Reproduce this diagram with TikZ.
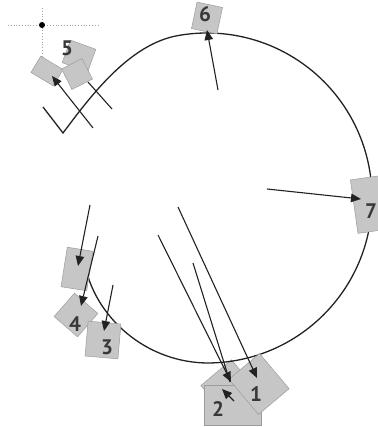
\documentclass[tikz,border=0pt]{standalone}
\usepackage{fontspec}
\setmainfont{PT Sans}
\usetikzlibrary{arrows.meta}
\definecolor{boxgray}{HTML}{C6C6C6}
\definecolor{boxedge}{HTML}{9C9C9C}
\definecolor{ink}{HTML}{222222}
\begin{document}
\begin{tikzpicture}[x=1pt,y=-1pt,
  box/.style={draw=boxedge, line width=0.5pt, fill=boxgray, inner sep=0pt},
  lbl/.style={font=\fontsize{21}{21}\selectfont\bfseries, text=ink!90, inner sep=0pt},
  arr/.style={draw=ink, line width=1.1pt, -{Triangle[length=10pt,width=8.5pt]}},
  plain/.style={draw=ink, line width=1.1pt},
  curve/.style={draw=ink, line width=1.3pt},
  guide/.style={draw=gray!70, line width=0.8pt, dotted}]
\useasboundingbox (0,0) rectangle (377,427);

% box hidden behind boxes 1 and 2
\node[box, minimum width=40pt, minimum height=40pt, rotate=40] (b2back) at (229,388) {};

% the open circle
\draw[curve] (84,258) .. controls (90,310) and (140,362) .. (207,363)
  arc[start angle=90, end angle=-100, radius=165]
  .. controls (129,44) and (90,97) .. (63,133) -- (43,107);

% dotted crosshair
\coordinate (gh1) at (8,25); \coordinate (gh2) at (98,25);
\coordinate (gv1) at (42,8); \coordinate (gv2) at (42,60);
\draw[guide] (gh1) -- (gh2);
\draw[guide] (gv1) -- (gv2);
\fill[black] (42,25) circle (3);

% boxes
\node[box, minimum width=57pt, minimum height=40pt] (b2) at (233,405) {};
\node[box, minimum width=40pt, minimum height=46pt, rotate=40] (b1) at (259,384) {};
\node[box, minimum width=26pt, minimum height=40pt, rotate=-9] (u4) at (77,269) {};
\node[box, minimum width=31pt, minimum height=31pt, rotate=-41] (b4) at (76,315) {};
\node[box, minimum width=33pt, minimum height=35pt, rotate=-5] (b3) at (103,340) {};
\node[box, minimum width=27pt, minimum height=24pt, rotate=-20] (b5) at (79,56) {};
\node[box, minimum width=26pt, minimum height=19pt, rotate=-31] (l5) at (47,71) {};
\node[box, minimum width=23pt, minimum height=23pt, rotate=27] (r5) at (77,74) {};
\node[box, minimum width=26pt, minimum height=27pt, rotate=-12] (b6) at (207,18) {};
\node[box, minimum width=38pt, minimum height=54pt, rotate=8] (b7) at (373,204) {};

% labels
\node[lbl] (t1) at (256,394) {1};
\node[lbl] (t2) at (218,409) {2};
\node[lbl] (t3) at (107,347) {3};
\node[lbl] (t4) at (75,324) {4};
\node[lbl] (t5) at (67,48) {5};
\node[lbl] (t6) at (205,14) {6};
\node[lbl] (t7) at (371,211) {7};

% connector end points
\coordinate (s6) at (218,90);  \coordinate (e6) at (207,30);
\coordinate (s7) at (267,189); \coordinate (e7) at (361,199);
\coordinate (s5) at (93,128);  \coordinate (e5) at (52,76);
\coordinate (s5b) at (112,109); \coordinate (e5b) at (88,82);
\coordinate (su4) at (90,205); \coordinate (eu4) at (78,266);
\coordinate (s4) at (98,236);  \coordinate (e4) at (81,306);
\coordinate (s3) at (113,285); \coordinate (e3) at (104,331);
\coordinate (s1) at (178,207); \coordinate (e1) at (257,378);
\coordinate (s2a) at (158,235); \coordinate (e2a) at (231,382);
\coordinate (s2b) at (193,263); \coordinate (e2b) at (230,382);
\coordinate (s2c) at (234,401); \coordinate (e2c) at (222,389);

% connectors
\draw[arr] (s6) -- (e6);
\draw[arr] (s7) -- (e7);
\draw[arr] (s5) -- (e5);
\draw[plain] (s5b) -- (e5b);
\draw[arr] (su4) -- (eu4);
\draw[arr] (s4) -- (e4);
\draw[arr] (s3) -- (e3);
\draw[arr] (s1) -- (e1);
\draw[plain] (s2b) -- (e2b);
\draw[arr] (s2a) -- (e2a);
\draw[arr] (s2c) -- (e2c);
\end{tikzpicture}
\end{document}
